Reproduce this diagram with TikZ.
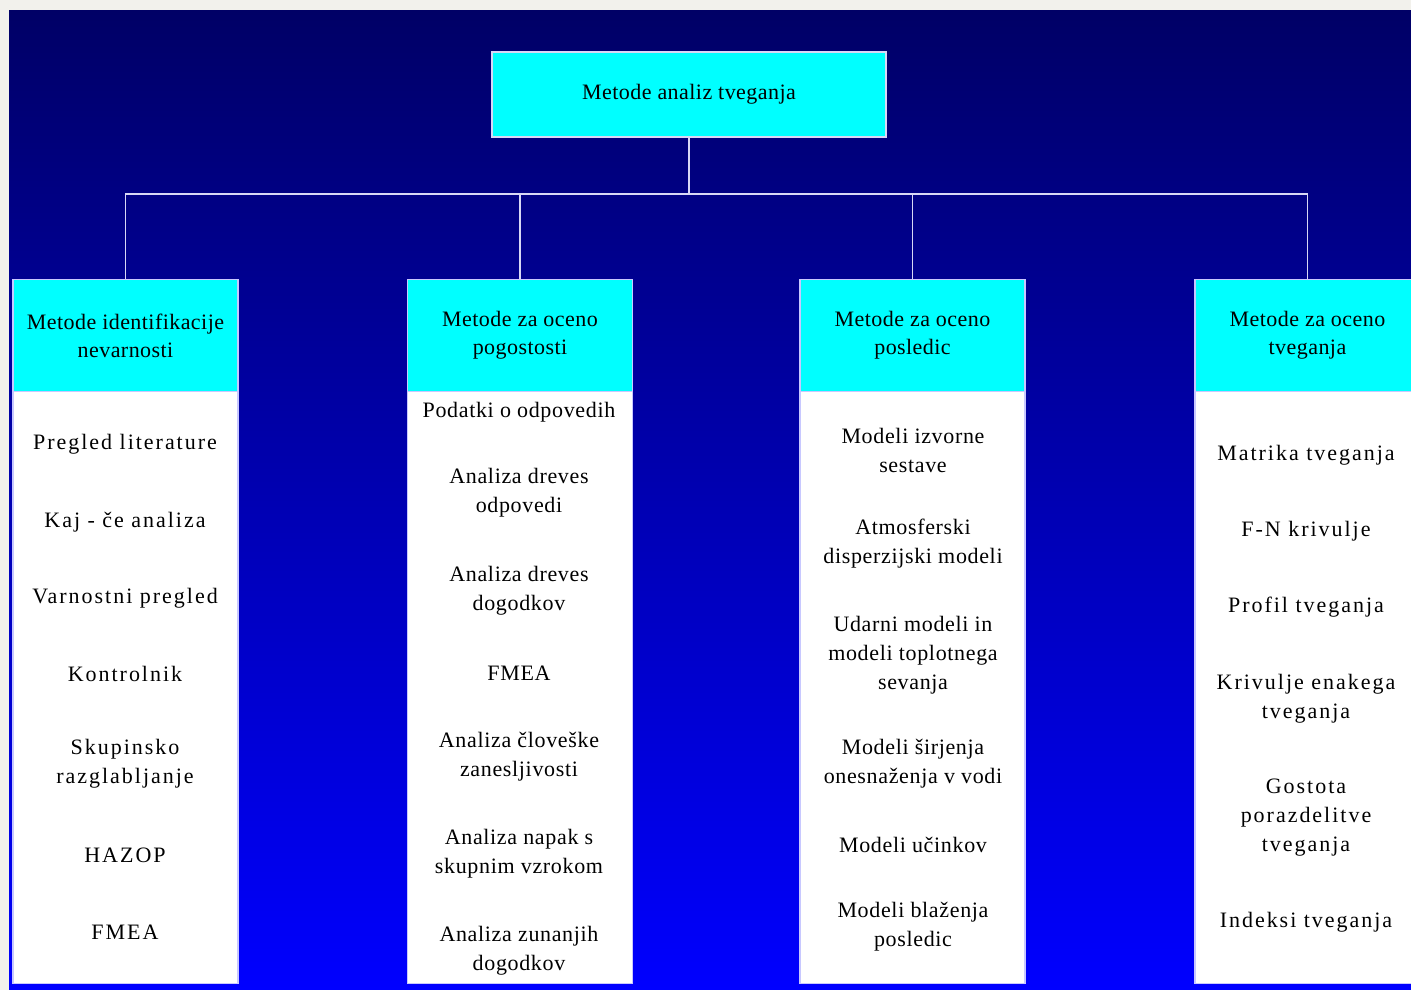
\documentclass[tikz,border=0pt]{standalone}
\usepackage{fontspec}
\setmainfont{Liberation Serif}
\newfontfamily\widefont[LetterSpace=9]{Liberation Serif}
\newfontfamily\midfont[LetterSpace=3]{Liberation Serif}
\newfontfamily\hdrfont[LetterSpace=2]{Liberation Serif}
\definecolor{bgray}{RGB}{242,241,236}
\definecolor{navytop}{RGB}{0,0,102}
\definecolor{bluemid}{RGB}{0,0,190}
\definecolor{bluebot}{RGB}{0,0,255}
\definecolor{lineclr}{RGB}{215,215,245}
\definecolor{frameclr}{RGB}{200,200,255}
\definecolor{cyanbox}{RGB}{0,255,255}
\tikzset{
  conn/.style={draw=lineclr, line width=1.6pt},
  topbox/.style={fill=cyanbox, draw=lineclr, line width=1.6pt, minimum width=394pt, minimum height=85pt, align=center, font=\hdrfont\fontsize{22}{28}\selectfont},
  colbox/.style={fill=white, draw=frameclr, line width=1.4pt, minimum width=225pt, minimum height=704pt, anchor=north, inner sep=0pt},
  hdrbox/.style={fill=cyanbox, draw=frameclr, line width=1.4pt, minimum width=225pt, minimum height=112pt, anchor=north, align=center, font=\hdrfont\fontsize{22}{28}\selectfont},
  witem/.style={align=center, inner sep=0pt, font=\widefont\fontsize{22}{29}\selectfont},
  item/.style={align=center, inner sep=0pt, font=\midfont\fontsize{22}{29}\selectfont}
}
\begin{document}
\begin{tikzpicture}[x=1pt,y=-1pt]
\useasboundingbox (0,0) rectangle (1411,990);
\fill[bgray] (0,0) rectangle (1411,990);
\shade[top color=navytop, middle color=bluemid, bottom color=bluebot] (9,11) rectangle (1411,990);

\node[topbox] (top) at (689,94.5) {\raisebox{-2pt}{Metode analiz tveganja}};

% columns
\node[colbox] (c1) at (125.5,279) {};
\node[colbox] (c2) at (520,279) {};
\node[colbox] (c3) at (912.5,279) {};
\node[colbox] (c4) at (1307.5,279) {};
\node[hdrbox] (h1) at (125.5,279) {Metode identifikacije\\nevarnosti};
\node[hdrbox] (h2) at (520,279) {Metode za oceno\\pogostosti};
\node[hdrbox] (h3) at (912.5,279) {Metode za oceno\\posledic};
\node[hdrbox] (h4) at (1307.5,279) {Metode za oceno\\tveganja};

% connectors
\coordinate (bus) at (689,194);
\draw[conn] (top.south) -- (bus);
\draw[conn] (h1.north) -- (h1.north |- bus) -- (h4.north |- bus) -- (h4.north);
\draw[conn] (h2.north) -- (h2.north |- bus);
\draw[conn] (h3.north) -- (h3.north |- bus);

% column 1
\node[witem] (a1) at (125,444) {Pregled literature};
\node[witem] (a2) at (125,522) {Kaj - če analiza};
\node[witem] (a3) at (125,598) {Varnostni pregled};
\node[witem] (a4) at (125,674) {Kontrolnik};
\node[witem] (a5) at (125,764) {Skupinsko\\razglabljanje};
\node[witem] (a6) at (125,855) {HAZOP};
\node[witem] (a7) at (125,932) {FMEA};

% column 2
\node[item] (b1) at (519,412) {Podatki o odpovedih};
\node[item] (b2) at (519,493) {Analiza dreves\\odpovedi};
\node[item] (b3) at (519,591) {Analiza dreves\\dogodkov};
\node[item] (b4) at (519,673) {FMEA};
\node[item] (b5) at (519,757) {Analiza človeške\\zanesljivosti};
\node[item] (b6) at (519,854) {Analiza napak s\\skupnim vzrokom};
\node[item] (b7) at (519,951) {Analiza zunanjih\\dogodkov};

% column 3
\node[item] (d1) at (913,450) {Modeli izvorne\\sestave};
\node[item] (d2) at (913,544) {Atmosferski\\disperzijski modeli};
\node[item] (d3) at (913,655) {Udarni modeli in\\modeli toplotnega\\sevanja};
\node[item] (d4) at (913,764) {Modeli širjenja\\onesnaženja v vodi};
\node[item] (d5) at (913,845) {Modeli učinkov};
\node[item] (d6) at (913,927) {Modeli blaženja\\posledic};

% column 4
\node[witem] (e1) at (1306,455) {Matrika tveganja};
\node[witem] (e2) at (1306,531) {F-N krivulje};
\node[witem] (e3) at (1306,607) {Profil tveganja};
\node[witem] (e4) at (1306,699) {Krivulje enakega\\tveganja};
\node[witem] (e5) at (1306,818) {Gostota\\porazdelitve\\tveganja};
\node[witem] (e6) at (1306,922) {Indeksi tveganja};
\end{tikzpicture}
\end{document}
